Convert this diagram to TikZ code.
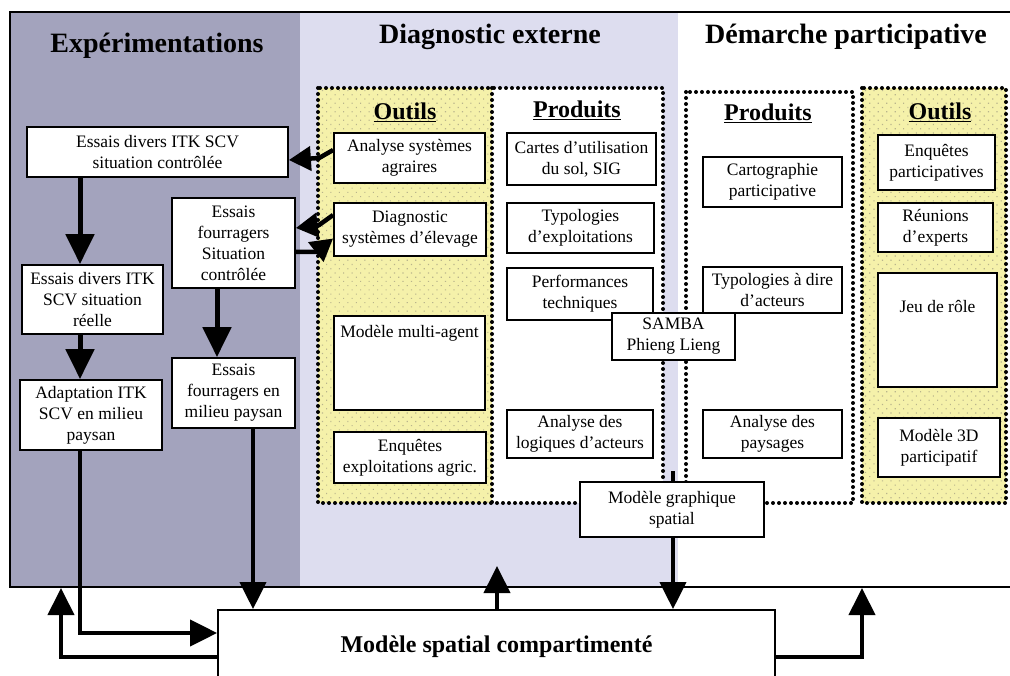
\documentclass[tikz,border=0pt]{standalone}
\usepackage{fontspec}
\setmainfont{Liberation Serif}
\usetikzlibrary{arrows.meta,patterns.meta}

\definecolor{expbg}{RGB}{163,163,189}
\definecolor{diagbg}{RGB}{221,221,239}
\definecolor{outbg}{RGB}{245,241,170}
\definecolor{outdot}{RGB}{185,180,140}

\newcommand{\bodyfont}{\fontsize{17.5}{21}\selectfont}
\newcommand{\titlefont}{\fontsize{28}{32}\selectfont\bfseries}
\newcommand{\headfont}{\fontsize{24}{28}\selectfont\bfseries}

\begin{document}
\begin{tikzpicture}[x=1pt, y=-1pt,
    box/.style={draw, line width=1.8pt, fill=white, align=center, font=\bodyfont, inner sep=2pt},
    fat/.style={line width=5pt, -{Triangle[width=28pt,length=30pt]}},
    link/.style={line width=4pt, -{Triangle[width=26pt,length=27pt]}},
    bent/.style={line width=4.5pt, -{Triangle[width=24pt,length=22pt]}},
    dotframe/.style={line width=4pt, dash pattern=on 0pt off 6pt, line cap=round},
    outils/.style={fill=outbg, postaction={pattern={Dots[distance=6pt,radius=0.8pt,angle=45]}, pattern color=outdot}},
  ]
  \useasboundingbox (0,0) rectangle (1010,676);

  % fonds des trois volets
  \fill[expbg] (10,12) rectangle (300,587);
  \fill[diagbg] (300,12) rectangle (678,587);
  \draw[line width=2pt] (1010,12) -- (10,12) -- (10,587) -- (1010,587);

  \node[font=\titlefont] (exptitle) at (157,46) {Expérimentations};
  \node[font=\titlefont] (diagtitle) at (490,37) {Diagnostic externe};
  \node[font=\titlefont] (parttitle) at (846,37) {Démarche participative};

  % cadres pointillés outils / produits
  \path[outils] (318,88) rectangle (492,503);
  \fill[white] (492,88) rectangle (663,503);
  \fill[white] (686,92) rectangle (853,503);
  \path[outils] (862,88) rectangle (1006,503);
  \draw[dotframe] (318,88) rectangle (663,503);
  \draw[dotframe] (492,88) -- (492,503);
  \draw[dotframe] (686,92) rectangle (853,503);
  \draw[dotframe] (862,88) rectangle (1006,503);

  \node[font=\headfont] (outhd1) at (405,112) {\underline{Outils}};
  \node[font=\headfont] (prodhd1) at (577,110) {\underline{Produits}};
  \node[font=\headfont] (prodhd2) at (768,113) {\underline{Produits}};
  \node[font=\headfont] (outhd2) at (940,112) {\underline{Outils}};

  % expérimentations
  \node[box, minimum width=261, minimum height=50] (essai1) at (157.5,152) {Essais divers ITK SCV\\situation contrôlée};
  \node[box, minimum width=123, minimum height=90] (fourr1) at (233.5,243) {Essais\\fourragers\\Situation\\contrôlée};
  \node[box, minimum width=141, minimum height=69] (essai3) at (92.5,299.5) {Essais divers ITK\\SCV situation\\réelle};
  \node[box, minimum width=142, minimum height=70] (adapt) at (91,415) {Adaptation ITK\\SCV en milieu\\paysan};
  \node[box, minimum width=123, minimum height=70] (fourr2) at (233.5,393) {Essais\\fourragers en\\milieu paysan};

  % diagnostic externe
  \node[box, minimum width=151, minimum height=50] (anasys) at (409.5,158) {Analyse systèmes\\agraires};
  \node[box, minimum width=152, minimum height=53] (diagel) at (410,229.5) {Diagnostic\\systèmes d’élevage};
  \node[box, minimum width=151, text height=20pt, text depth=70pt] (multiag) at (409.5,363) {Modèle multi-agent};
  \node[box, minimum width=152, minimum height=51] (enqexp) at (410,457.5) {Enquêtes\\exploitations agric.};
  \node[box, minimum width=149, minimum height=52] (cartes) at (581.5,159) {Cartes d’utilisation\\du sol, SIG};
  \node[box, minimum width=147, minimum height=50] (typexp) at (580.5,228) {Typologies\\d’exploitations};
  \node[box, minimum width=146, minimum height=52] (perf) at (580,294) {Performances\\techniques};
  \node[box, minimum width=146, minimum height=48] (logiq) at (580,434) {Analyse des\\logiques d’acteurs};

  % démarche participative
  \node[box, minimum width=139, minimum height=50] (cartopart) at (772.5,182) {Cartographie\\participative};
  \node[box, minimum width=139, minimum height=46] (typdire) at (772.5,290) {Typologies à dire\\d’acteurs};
  \node[box, minimum width=139, minimum height=48] (paysag) at (772.5,434) {Analyse des\\paysages};
  \node[box, minimum width=117, minimum height=55] (enqpart) at (936.5,162.5) {Enquêtes\\participatives};
  \node[box, minimum width=115, minimum height=49] (reunion) at (935.5,227.5) {Réunions\\d’experts};
  \node[box, minimum width=119, text height=38pt, text depth=72pt] (jeurole) at (937.5,330) {Jeu de rôle};
  \node[box, minimum width=122, minimum height=59] (mod3d) at (939,447.5) {Modèle 3D\\participatif};

  \node[box, minimum width=123, minimum height=47] (samba) at (673.5,336.5) {SAMBA\\Phieng Lieng};
  \node[box, minimum width=184, minimum height=55] (modgraph) at (672,509.5) {Modèle graphique\\spatial};
  \node[box, minimum width=557, minimum height=74, font=\headfont] (modspat) at (496.5,647) {Modèle spatial compartimenté};

  % liaisons
  \coordinate (lane1) at (80,0);
  \coordinate (lane2) at (217,0);
  \coordinate (lane3) at (253,0);
  \coordinate (lane4) at (497,0);
  \coordinate (lane5) at (673,0);
  \coordinate (up1) at (497,566);
  \coordinate (up2) at (61,588);
  \coordinate (up3) at (862,588);
  \coordinate (stub) at (673,471);

  \draw[fat] (essai1.south -| lane1) -- (essai3.north -| lane1);
  \draw[fat] (essai3.south -| lane1) -- (adapt.north -| lane1);
  \draw[fat] (fourr1.south -| lane2) -- (fourr2.north -| lane2);
  \draw[bent] ([yshift=8pt]anasys.west) -- ++(-14,8) -- ([yshift=-8pt]essai1.east);
  \draw[bent] ([yshift=14.5pt]diagel.west) -- ++(-14,10) -- ([yshift=15pt]fourr1.east);
  \draw[bent] ([yshift=-9pt]fourr1.east) -- ++(20,0) -- ([yshift=-9pt]diagel.west);

  \draw[link] (adapt.south -| lane1) |- ([yshift=14pt]modspat.west);
  \draw[link] (fourr2.south -| lane3) -- (modspat.north -| lane3);
  \draw[link] (modspat.north -| lane4) -- (up1);
  \draw[line width=4pt] (stub) -- (modgraph.north -| lane5);
  \draw[link] (modgraph.south -| lane5) -- (modspat.north -| lane5);
  \draw[link] ([yshift=-10pt]modspat.west) -| (up2);
  \draw[link] ([yshift=-10pt]modspat.east) -| (up3);
\end{tikzpicture}
\end{document}
